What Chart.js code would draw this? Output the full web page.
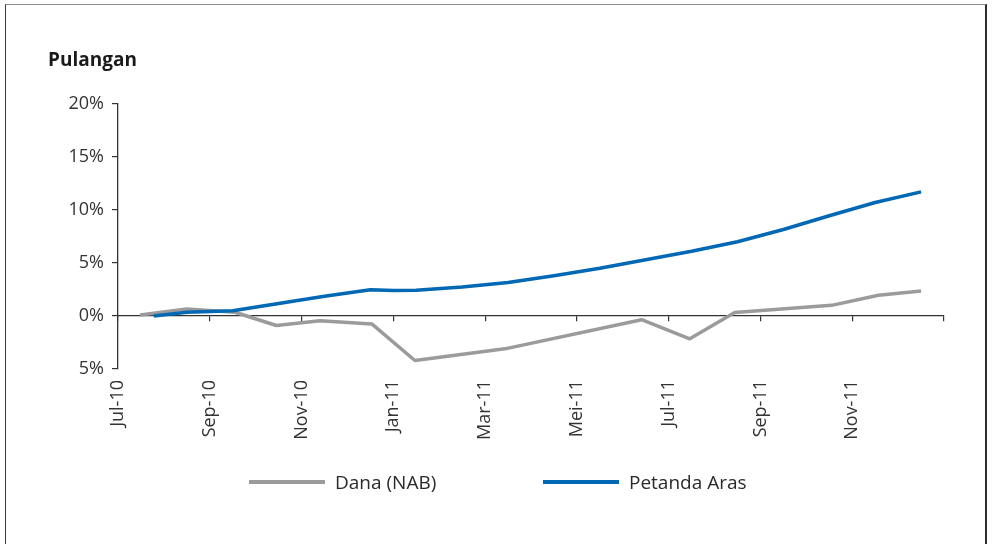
<!DOCTYPE html>
<html>
<head>
<meta charset="utf-8">
<script src="https://cdn.jsdelivr.net/npm/chart.js@4/dist/chart.umd.min.js"></script>
<style>
  html, body { margin: 0; padding: 0; background: #ffffff; }
  #wrap { position: relative; width: 993px; height: 544px; overflow: hidden; }
  #frame { position: absolute; left: 5px; top: 4px; width: 979px; height: 560px;
           border-left: 1px solid #3c3c3c; border-top: 1px solid #8c8c8c; border-right: 2px solid #2e2e2e;
           pointer-events: none; }
  canvas { position: absolute; left: 0; top: 0; }
  #legend { position: absolute; left: 249px; top: 468px; display: flex; margin: 0; padding: 0; list-style: none;
            font-family: 'Open Sans', sans-serif; font-size: 19px; color: #2a2a2a; }
  #legend li { display: flex; align-items: center; width: 294px; height: 28px; }
  #legend .sw { display: inline-block; width: 76px; height: 4px; margin-right: 10px; }
</style>
</head>
<body>
<div id="wrap">
  <div id="frame"></div>
  <canvas id="c" width="993" height="544"></canvas>
  <ul id="legend"></ul>
</div>
<script>
// Tick labels
const monthLabels = ['Jul-10', 'Sep-10', 'Nov-10', 'Jan-11', 'Mar-11', 'Mei-11', 'Jul-11', 'Sep-11', 'Nov-11', ''];
const yTickLabels = ['5%', '0%', '5%', '10%', '15%', '20%'];

// Series: Dana (NAB) — x in months since Jul-10
const danaMonths = [0.48, 1.5, 2.55, 3.45, 4.4, 5.53, 6.47, 8.43, 11.41, 12.46, 13.44, 15.55, 16.57, 17.5];
const danaValues = [0.1, 0.65, 0.35, -0.9, -0.45, -0.75, -4.2, -3.1, -0.35, -2.15, 0.32, 1.0, 1.95, 2.35];

// Series: Petanda Aras
const arasMonths = [0.78, 1.5, 2.5, 3.5, 4.5, 5.5, 6.0, 6.5, 7.5, 8.5, 9.5, 10.5, 11.5, 12.5, 13.5, 14.5, 15.5, 16.5, 17.5];
const arasValues = [0.0, 0.35, 0.5, 1.18, 1.85, 2.48, 2.4, 2.43, 2.72, 3.15, 3.8, 4.5, 5.3, 6.1, 7.0, 8.15, 9.45, 10.7, 11.7];

const seriesNames = ['Dana (NAB)', 'Petanda Aras'];
const seriesColors = ['#9b9b9d', '#0068b4'];

const toPoints = (xs, ys) => xs.map((x, i) => ({ x: x, y: ys[i] }));

const htmlLegend = {
  id: 'htmlLegend',
  afterUpdate(chart) {
    const ul = document.getElementById('legend');
    ul.innerHTML = '';
    chart.data.datasets.forEach(ds => {
      const li = document.createElement('li');
      const sw = document.createElement('span');
      sw.className = 'sw';
      sw.style.background = ds.borderColor;
      const tx = document.createElement('span');
      tx.textContent = ds.label;
      li.appendChild(sw);
      li.appendChild(tx);
      ul.appendChild(li);
    });
  }
};

Chart.defaults.font.family = "'Open Sans', sans-serif";
Chart.defaults.color = '#333333';

new Chart(document.getElementById('c'), {
  type: 'line',
  data: {
    datasets: [
      { label: seriesNames[0], data: toPoints(danaMonths, danaValues), borderColor: seriesColors[0],
        backgroundColor: seriesColors[0], borderWidth: 3.5, pointRadius: 0, tension: 0, order: 2,
        borderJoinStyle: 'round', xAxisID: 'x', yAxisID: 'y' },
      { label: seriesNames[1], data: toPoints(arasMonths, arasValues), borderColor: seriesColors[1],
        backgroundColor: seriesColors[1], borderWidth: 3.5, pointRadius: 0, tension: 0, order: 1,
        borderJoinStyle: 'round', xAxisID: 'x', yAxisID: 'y' }
    ]
  },
  options: {
    responsive: false,
    animation: false,
    devicePixelRatio: 1,
    layout: { padding: { left: 48, right: 49, top: 40, bottom: 95 } },
    plugins: {
      legend: { display: false },
      tooltip: { enabled: false },
      title: {
        display: true, text: 'Pulangan', align: 'start', color: '#1a1a1a',
        font: { size: 19, weight: 'bold' }, padding: { top: 9, bottom: 32 }
      }
    },
    scales: {
      x: {
        type: 'linear', position: 'bottom', min: 0, max: 18,
        grid: { display: false, drawTicks: false },
        border: { display: false },
        ticks: {
          stepSize: 2, autoSkip: false, minRotation: 90, maxRotation: 90, padding: 11,
          font: { size: 18 }, color: '#333333',
          callback: (v) => monthLabels[Math.round(v / 2)]
        },
        afterFit: (s) => { s.height = 80; }
      },
      x0: {
        type: 'linear', position: { y: 0 }, min: 0, max: 18,
        grid: { drawOnChartArea: false, drawTicks: true, tickLength: 5, color: '#333333', lineWidth: 1.2 },
        border: { display: true, color: '#333333', width: 1.3 },
        ticks: { display: false, stepSize: 2 }
      },
      y: {
        type: 'linear', position: 'left', min: -5, max: 20,
        grid: { drawOnChartArea: false, drawTicks: true, tickLength: 6, color: '#333333', lineWidth: 1.2 },
        border: { display: true, color: '#333333', width: 1.3 },
        ticks: {
          stepSize: 5, padding: 8, font: { size: 18 }, color: '#333333',
          callback: (v, i) => yTickLabels[i]
        },
        afterFit: (s) => { s.width = 70; }
      }
    }
  },
  plugins: [htmlLegend]
});
</script>
</body>
</html>
